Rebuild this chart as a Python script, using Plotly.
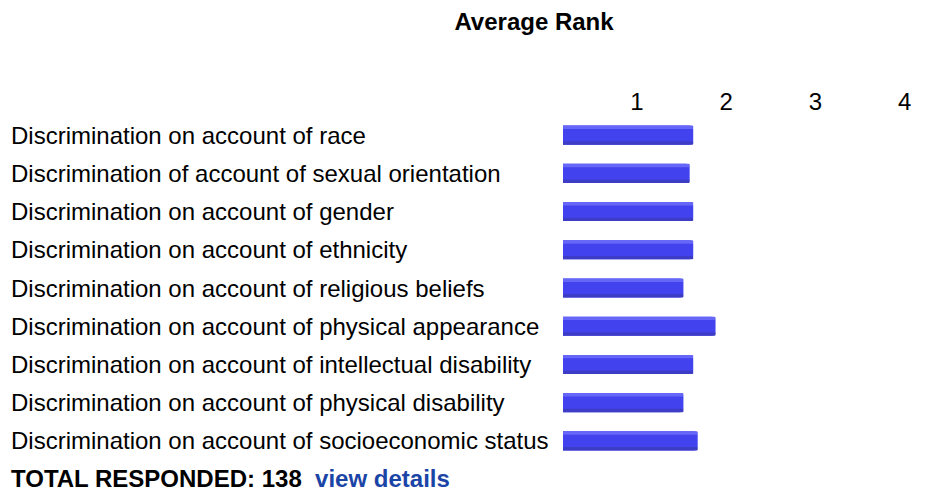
import plotly.graph_objects as go

categories = [
    "Discrimination on account of race",
    "Discrimination of account of sexual orientation",
    "Discrimination on account of gender",
    "Discrimination on account of ethnicity",
    "Discrimination on account of religious beliefs",
    "Discrimination on account of physical appearance",
    "Discrimination on account of intellectual disability",
    "Discrimination on account of physical disability",
    "Discrimination on account of socioeconomic status",
]
avg_rank = [1.63, 1.59, 1.63, 1.63, 1.52, 1.88, 1.63, 1.52, 1.68]
tick_vals = [1, 2, 3, 4]
tick_text = ["1", "2", "3", "4"]
total_responded = 138

FONT = "Arial, Liberation Sans, sans-serif"
FS = 24

fig = go.Figure()
# main bar
fig.add_trace(go.Bar(
    y=categories, x=avg_rank, orientation="h", width=0.5,
    marker=dict(color="#4242EE", line=dict(width=0), cornerradius=4),
    hoverinfo="x+y",
))
# top highlight strip (3D look)
fig.add_trace(go.Bar(
    y=categories, x=avg_rank, orientation="h", width=0.09, offset=-0.25,
    marker=dict(color="#6666F8", line=dict(width=0), cornerradius=2),
    hoverinfo="skip",
))
# bottom shade strip
fig.add_trace(go.Bar(
    y=categories, x=avg_rank, orientation="h", width=0.09, offset=0.16,
    marker=dict(color="#3C3CC6", line=dict(width=0), cornerradius=2),
    hoverinfo="skip",
))

W, H = 927, 489
ml, mr, mt, mb = 563, 7, 116, 29
plot_w = W - ml - mr

fig.update_layout(
    width=W, height=H,
    margin=dict(l=ml, r=mr, t=mt, b=mb),
    paper_bgcolor="white", plot_bgcolor="white",
    showlegend=False, barmode="overlay",
    font=dict(family=FONT, size=FS, color="black"),
    title=dict(text="<b>Average Rank</b>", x=534 / W, xanchor="center",
               y=1 - 22 / H, yanchor="middle", font=dict(size=FS, family=FONT)),
    xaxis=dict(side="top", range=[0.17, 0.17 + plot_w / 89.2], tickvals=tick_vals,
               ticktext=tick_text, showgrid=False, zeroline=False, showline=False,
               ticks="", tickfont=dict(size=FS), ticklabelstandoff=0, fixedrange=True),
    yaxis=dict(categoryorder="array", categoryarray=categories, autorange="reversed",
               showticklabels=False, showgrid=False, zeroline=False, showline=False,
               fixedrange=True),
)

for c in categories:
    fig.add_annotation(text=c, xref="paper", x=(9 - ml) / plot_w, xanchor="left",
                       yref="y", y=c, yanchor="middle", showarrow=False,
                       font=dict(size=FS, family=FONT, color="black"))

fig.add_annotation(
    text=f"<b>TOTAL RESPONDED: {total_responded}</b>  <b><span style='color:#1a44a6'>view details</span></b>",
    xref="paper", x=(9 - ml) / plot_w, xanchor="left",
    yref="paper", y=-(478 - (H - mb)) / (H - mt - mb), yanchor="middle",
    showarrow=False, font=dict(size=FS, family=FONT, color="black"))

fig.write_html("out.html", config={"displayModeBar": False},
               post_script="document.body.style.margin='0';")
